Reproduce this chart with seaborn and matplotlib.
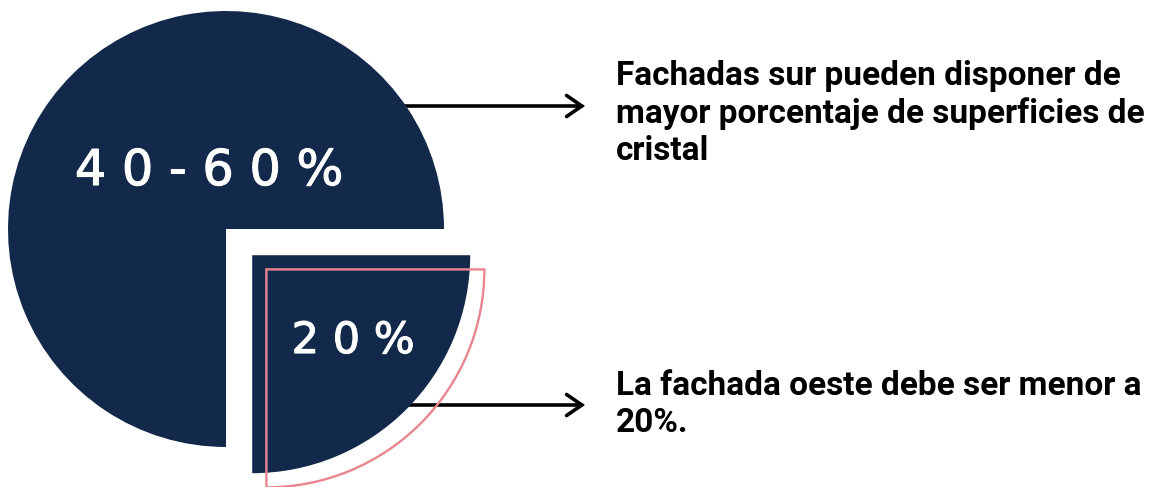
import matplotlib
matplotlib.use("Agg")
import matplotlib.pyplot as plt
import matplotlib.patheffects as pe
import seaborn as sns

# Window-to-wall ratio by façade orientation
slice_labels = ["4 0 - 6 0 %", "2 0 %"]
slice_shares = [3, 1]          # three quarters / one quarter of the disc
note_top = ["Fachadas sur pueden disponer de",
            "mayor porcentaje de superficies de",
            "cristal"]
note_bottom = ["La fachada oeste debe ser menor a",
               "20%."]

NAVY = "#13294B"
PINK = "#E8858D"

sns.set_theme(style="white")
plt.rcParams["font.family"] = ["Roboto", "DejaVu Sans"]

W, H = 1159, 487
fig = plt.figure(figsize=(W / 100, H / 100), dpi=100)
ax = fig.add_axes([0, 0, 1, 1])

center = (226, 258)
radius = 218

# callout arrows (drawn first so the pie covers their tails)
arrow_y = [381, 82]
for y in arrow_y:
    ax.annotate("", xy=(585, y), xytext=(380, y),
                arrowprops=dict(arrowstyle="->,head_length=0.55,head_width=0.38",
                                lw=2.6, color="black", mutation_scale=20,
                                shrinkA=0, shrinkB=0, joinstyle="miter"),
                zorder=1)

# pie: explode offsets are in data units, so scale by the radius
wedges, _ = ax.pie(slice_shares, colors=[NAVY, NAVY], startangle=0,
                   counterclock=True, explode=[0, 0.17 * radius], center=center,
                   radius=radius, wedgeprops=dict(linewidth=0))
for w in wedges:
    w.set_zorder(2)

outline, _ = ax.pie(slice_shares, colors=["none", "none"], startangle=0,
                    counterclock=True, explode=[0, 0.262 * radius], center=center,
                    radius=radius,
                    wedgeprops=dict(fill=False, linewidth=1.7, edgecolor=PINK))
outline[0].set_visible(False)
outline[1].set_zorder(3)

# percentage labels inside the slices
label_pos = [(209, 302), (353, 134)]
label_size = [35.5, 31]
for (x, y), txt, fs in zip(label_pos, slice_labels, label_size):
    ax.text(x, y, txt, color="white", fontsize=fs, ha="center", va="baseline",
            family=["DejaVu Sans"], zorder=4,
            path_effects=[pe.withStroke(linewidth=0.8, foreground="white")])

# notes on the right, one baseline per line
def draw_note(lines, x, y0, step=37.5):
    for i, line in enumerate(lines):
        ax.text(x, y0 - i * step, line, color="black", fontsize=24,
                fontweight="bold", ha="left", va="baseline", zorder=4)

draw_note(note_top, 616, 402)
draw_note(note_bottom, 616, 92)

ax.set_xlim(0, W)
ax.set_ylim(0, H)
ax.set_aspect("equal")
ax.axis("off")

fig.savefig("out.png", dpi=100, facecolor="white")
